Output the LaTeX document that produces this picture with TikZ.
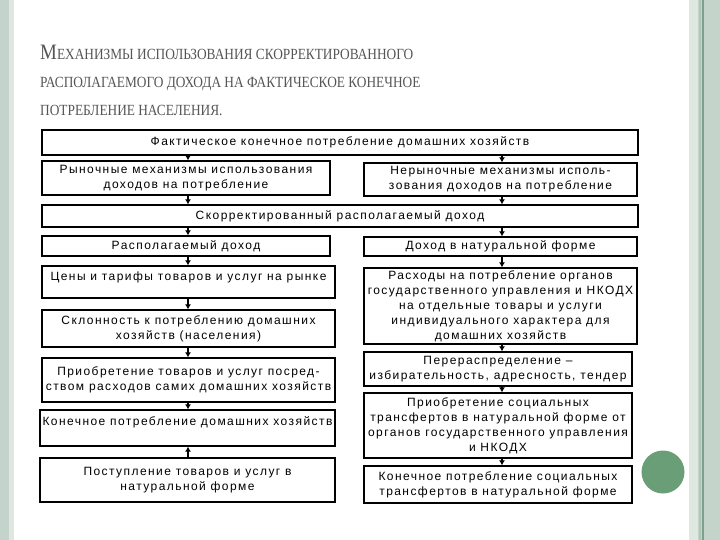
\documentclass[tikz,border=0pt]{standalone}
\usepackage{fontspec}
\setmainfont{Liberation Serif}
\newfontfamily\titlefont[FakeStretch=0.86]{Liberation Serif}
\newfontfamily\boxfont[LetterSpace=12]{Liberation Sans}
\usepackage{tikz}
\usetikzlibrary{arrows.meta}

\definecolor{stripe}{RGB}{197,212,202}
\definecolor{stripelight}{RGB}{222,232,225}
\definecolor{stripeline}{RGB}{125,160,138}
\definecolor{dotgreen}{RGB}{106,158,118}
\definecolor{titlegray}{RGB}{85,85,85}

\tikzset{
  blok/.style={draw, line width=1.3pt, align=center, inner xsep=1pt, inner ysep=1pt,
    font=\boxfont\fontsize{12}{15}\selectfont},
  arr/.style={->, line width=1.4pt},
  titul/.style={anchor=base west, inner sep=0pt, text=titlegray,
    font=\titlefont\fontsize{15.5}{18}\selectfont},
}
\newcommand{\bigM}[1]{{\fontsize{22}{22}\selectfont #1}}

\begin{document}
\begin{tikzpicture}[x=1pt, y=-1pt, >={Latex[length=5pt,width=6pt]}]
  \useasboundingbox (0,0) rectangle (720,540);
  % slide frame
  \fill[stripe] (0,0) rectangle (12,540);
  \fill[stripelight] (9,0) rectangle (14,540);
  \fill[stripe] (689,0) rectangle (720,540);
  \fill[stripelight] (689,0) rectangle (698,540);
  \fill[stripeline!60] (699,0) rectangle (701,540);
  \fill[stripeline] (702,0) rectangle (703.5,540);
  \fill[dotgreen] (663,472) circle (21.5);

  % title
  \node[titul] (t1) at (40,60) {\bigM{М}ЕХАНИЗМЫ ИСПОЛЬЗОВАНИЯ СКОРРЕКТИРОВАННОГО};
  \node[titul] (t2) at (40,88) {РАСПОЛАГАЕМОГО ДОХОДА НА ФАКТИЧЕСКОЕ КОНЕЧНОЕ};
  \node[titul] (t3) at (40,116) {ПОТРЕБЛЕНИЕ НАСЕЛЕНИЯ.};

  % boxes
  \node[blok, minimum width=596pt, minimum height=25pt] (fakt) at (340,142.5)
    {Фактическое конечное потребление домашних хозяйств};
  \node[blok, minimum width=288pt, minimum height=34pt] (rynok) at (186,178)
    {Рыночные механизмы использования\\доходов на потребление};
  \node[blok, minimum width=273pt, minimum height=33pt] (nerynok) at (500.5,179.5)
    {Нерыночные механизмы исполь-\\зования доходов на потребление};
  \node[blok, minimum width=596pt, minimum height=22pt] (skorr) at (340,216)
    {Скорректированный располагаемый доход};
  \node[blok, minimum width=288pt, minimum height=20pt] (raspol) at (186,246)
    {Располагаемый доход};
  \node[blok, minimum width=273pt, minimum height=19pt] (natur) at (500.5,246.5)
    {Доход в натуральной форме};
  \node[blok, minimum width=293pt, minimum height=32pt, text depth=12pt] (ceny) at (188.5,282)
    {Цены и тарифы товаров и услуг на рынке};
  \node[blok, minimum width=293pt, minimum height=37pt] (sklon) at (188.5,328.5)
    {Склонность к потреблению домашних\\хозяйств (населения)};
  \node[blok, minimum width=273pt, minimum height=76pt] (rashod) at (500.5,306)
    {Расходы на потребление органов\\государственного управления и НКОДХ\\на отдельные товары и услуги\\индивидуального характера для\\домашних хозяйств};
  \node[blok, minimum width=293pt, minimum height=44pt] (priob) at (188.5,380)
    {Приобретение товаров и услуг посред-\\ством расходов самих домашних хозяйств};
  \node[blok, minimum width=268pt, minimum height=34pt] (perer) at (498,369)
    {Перераспределение –\\избирательность, адресность, тендер};
  \node[blok, minimum width=295pt, minimum height=36pt, text depth=14pt] (konech) at (187.5,428)
    {Конечное потребление домашних хозяйств};
  \node[blok, minimum width=268pt, minimum height=65pt] (priobsoc) at (498,425.5)
    {Приобретение социальных\\трансфертов в натуральной форме от\\органов государственного управления\\и НКОДХ};
  \node[blok, minimum width=295pt, minimum height=44pt] (postup) at (187.5,480)
    {Поступление товаров и услуг в\\натуральной форме};
  \node[blok, minimum width=268pt, minimum height=37pt] (konsoc) at (498,484.5)
    {Конечное потребление социальных\\трансфертов в натуральной форме};

  % arrows
  \coordinate (lx) at (188,0);
  \coordinate (rx) at (502,0);
  \foreach \a/\b in {fakt/rynok, rynok/skorr, skorr/raspol, raspol/ceny,
                     ceny/sklon, sklon/priob, priob/konech}
    \draw[arr] (\a.south -| lx) -- (\b.north -| lx);
  \draw[arr] (postup.north -| lx) -- (konech.south -| lx);
  \foreach \a/\b in {fakt/nerynok, nerynok/skorr, skorr/natur, natur/rashod,
                     rashod/perer, perer/priobsoc, priobsoc/konsoc}
    \draw[arr] (\a.south -| rx) -- (\b.north -| rx);
\end{tikzpicture}
\end{document}
